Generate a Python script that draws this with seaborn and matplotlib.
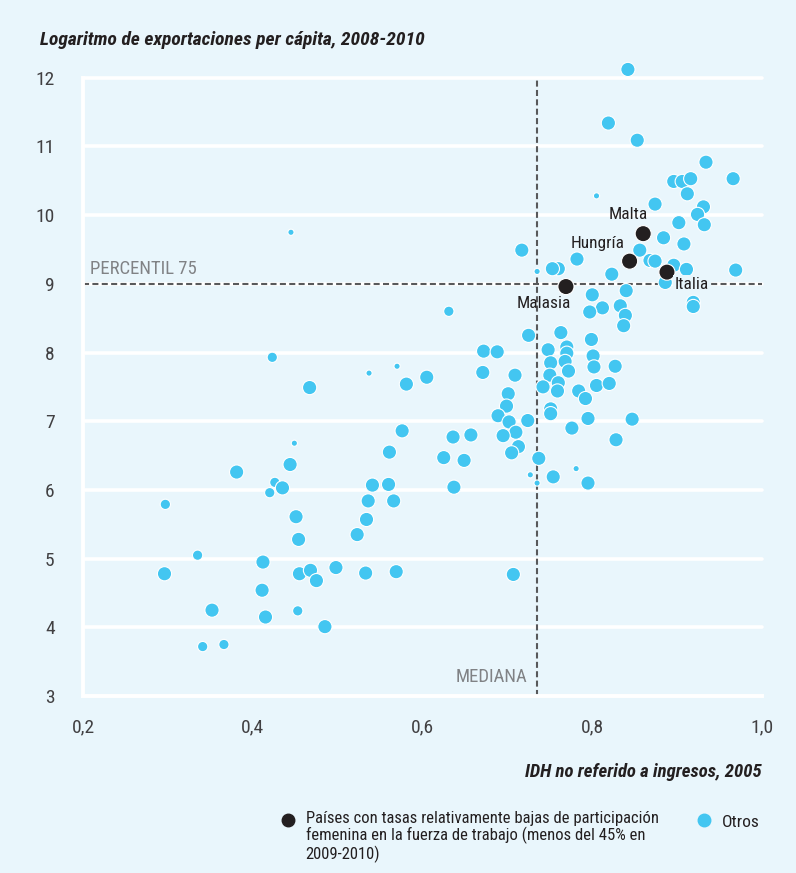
import matplotlib
matplotlib.use("Agg")
import matplotlib.pyplot as plt
from matplotlib import font_manager as fm
from matplotlib import transforms
import seaborn as sns
import pandas as pd
from matplotlib.lines import Line2D

# IDH no referido a ingresos (x), log exportaciones per capita (y), tamaño del punto
otros_x = [0.445, 0.423, 0.467, 0.449, 0.444, 0.381, 0.426, 0.435, 0.420, 0.297,
           0.541, 0.536, 0.534, 0.523, 0.451, 0.454, 0.412, 0.335, 0.296, 0.455,
           0.468, 0.475, 0.498, 0.533, 0.411, 0.352, 0.453, 0.415, 0.485, 0.341,
           0.366, 0.631, 0.725, 0.672, 0.688, 0.537, 0.570, 0.581, 0.605, 0.671,
           0.709, 0.701, 0.699, 0.689, 0.702, 0.724, 0.710, 0.695, 0.713, 0.705,
           0.737, 0.727, 0.735, 0.576, 0.636, 0.657, 0.561, 0.625, 0.649, 0.560,
           0.637, 0.566, 0.569, 0.707, 0.717, 0.735, 0.763, 0.748, 0.770, 0.770,
           0.768, 0.751, 0.772, 0.750, 0.760, 0.742, 0.759, 0.784, 0.792, 0.751,
           0.751, 0.776, 0.795, 0.847, 0.828, 0.799, 0.801, 0.802, 0.827, 0.805,
           0.820, 0.754, 0.781, 0.795, 0.800, 0.812, 0.797, 0.833, 0.839, 0.837,
           0.840, 0.842, 0.819, 0.853, 0.934, 0.966, 0.896, 0.906, 0.916, 0.912,
           0.805, 0.874, 0.931, 0.924, 0.932, 0.902, 0.884, 0.908, 0.856, 0.868,
           0.874, 0.896, 0.886, 0.911, 0.969, 0.782, 0.760, 0.753, 0.823, 0.919,
           0.919]
otros_y = [9.75, 7.93, 7.49, 6.68, 6.37, 6.26, 6.11, 6.03, 5.96, 5.79,
           6.07, 5.84, 5.57, 5.35, 5.61, 5.28, 4.95, 5.05, 4.78, 4.78,
           4.83, 4.68, 4.87, 4.79, 4.54, 4.25, 4.24, 4.15, 4.01, 3.72,
           3.75, 8.60, 8.25, 8.02, 8.01, 7.70, 7.80, 7.54, 7.64, 7.71,
           7.67, 7.40, 7.22, 7.08, 6.99, 7.01, 6.84, 6.79, 6.63, 6.54,
           6.46, 6.22, 6.10, 6.86, 6.77, 6.80, 6.55, 6.47, 6.43, 6.08,
           6.04, 5.84, 4.81, 4.77, 9.49, 9.18, 8.29, 8.04, 8.08, 7.99,
           7.87, 7.85, 7.73, 7.67, 7.56, 7.50, 7.44, 7.44, 7.33, 7.18,
           7.11, 6.90, 7.04, 7.03, 6.73, 8.19, 7.95, 7.79, 7.80, 7.52,
           7.55, 6.19, 6.31, 6.10, 8.84, 8.65, 8.59, 8.68, 8.54, 8.39,
           8.90, 12.12, 11.34, 11.09, 10.77, 10.53, 10.49, 10.49, 10.53, 10.31,
           10.28, 10.16, 10.12, 10.01, 9.86, 9.89, 9.67, 9.58, 9.49, 9.34,
           9.33, 9.27, 9.02, 9.21, 9.20, 9.36, 9.22, 9.22, 9.14, 8.73,
           8.67]
otros_tam = ["S", "M", "L", "S", "L", "L", "M", "L", "M", "M",
             "L", "L", "L", "L", "L", "L", "L", "M", "L", "L",
             "L", "L", "L", "L", "L", "L", "M", "L", "L", "M",
             "M", "M", "L", "L", "L", "S", "S", "L", "L", "L",
             "L", "L", "L", "L", "L", "L", "L", "L", "L", "L",
             "L", "S", "S", "L", "L", "L", "L", "L", "L", "L",
             "L", "L", "L", "L", "L", "S", "L", "L", "L", "L",
             "L", "L", "L", "L", "L", "L", "L", "L", "L", "L",
             "L", "L", "L", "L", "L", "L", "L", "L", "L", "L",
             "L", "L", "S", "L", "L", "L", "L", "L", "L", "L",
             "L", "L", "L", "L", "L", "L", "L", "L", "L", "L",
             "S", "L", "L", "L", "L", "L", "L", "L", "L", "L",
             "L", "L", "L", "L", "L", "L", "L", "L", "L", "L",
             "L"]

# paises con baja participacion femenina
bajos_nombre = ["Malta", "Hungría", "Italia", "Malasia"]
bajos_x = [0.860, 0.844, 0.888, 0.769]
bajos_y = [9.73, 9.33, 9.17, 8.96]

mediana_idh = 0.735
percentil_75 = 9

bg = "#E9F6FC"
cyan = "#43C6F1"
negro = "#231F20"
gris = "#808285"
tick_col = "#1AA7E0"

df = pd.DataFrame({
    "idh": otros_x + bajos_x,
    "exp": otros_y + bajos_y,
    "grupo": ["otros"] * len(otros_x) + ["bajos"] * len(bajos_x),
    "tam": otros_tam + ["XL"] * len(bajos_x),
})

sns.set_style("white")

# buscar una fuente estrecha parecida a la original
fuentes = fm.fontManager.ttflist
nombres = {f.name for f in fuentes}
familia = None
for cand in ["Roboto Condensed", "Liberation Sans Narrow", "Open Sans Condensed",
             "Noto Sans Condensed", "DejaVu Sans Condensed"]:
    if cand in nombres:
        familia = cand
        break
if familia is None:
    estrechas = [f.name for f in fuentes if f.stretch in ("condensed", "semi-condensed")]
    if estrechas:
        familia = estrechas[0]
        plt.rcParams["font.stretch"] = "condensed"
    else:
        familia = "DejaVu Sans"
plt.rcParams["font.family"] = [familia, "DejaVu Sans"]

fig = plt.figure(figsize=(7.96, 8.73), dpi=100, facecolor=bg)
ax = fig.add_axes([0.1043, 0.2027, 0.8530, 0.7083])
ax.set_facecolor(bg)

# lineas de referencia
dash = (0, (2.9, 1.6))
ax.axhline(percentil_75, color="#58595B", lw=1.5, ls=dash, zorder=1.5)
ax.axvline(mediana_idh, color="#58595B", lw=1.5, ls=dash, zorder=1.5)

sns.scatterplot(data=df, x="idh", y="exp", hue="grupo", size="tam",
                palette={"otros": cyan, "bajos": negro},
                sizes={"S": 20, "M": 55, "L": 105, "XL": 135},
                edgecolor="white", linewidth=0.8, legend=False,
                clip_on=False, zorder=3, ax=ax)

ax.set_xlim(0.2, 1.0)
ax.set_ylim(3, 12)
ax.set_xticks([0.2, 0.4, 0.6, 0.8, 1.0])
ax.set_xticklabels(["0,2", "0,4", "0,6", "0,8", "1,0"])
ax.set_yticks(range(3, 13))
ax.set_xlabel("")
ax.set_ylabel("")

ax.grid(axis="y", color="white", lw=2.6, zorder=0)
ax.grid(axis="x", visible=False)
for ln in ax.get_ygridlines():
    ln.set_clip_on(False)
for s in ["top", "right"]:
    ax.spines[s].set_visible(False)
for s in ["left", "bottom"]:
    ax.spines[s].set_color("white")
    ax.spines[s].set_linewidth(2.8)
    ax.spines[s].set_zorder(2.6)
ax.tick_params(axis="both", direction="out", width=1.5, color=tick_col,
               labelsize=14, labelcolor="#414042")
ax.tick_params(axis="y", length=11.5, pad=9)
ax.tick_params(axis="x", length=8, pad=8)

# textos de referencia
ax.text(0.208, percentil_75 + 0.14, "PERCENTIL 75", color=gris, fontsize=13.5,
        ha="left", va="baseline")
ax.text(mediana_idh - 0.011, 3.2, "MEDIANA", color=gris, fontsize=13.5,
        ha="right", va="baseline")

# etiquetas de paises
offsets = {"Malta": (-11, 14), "Hungría": (-23, 13), "Italia": (18, -9), "Malasia": (-16, -12)}
for nom, xv, yv in zip(bajos_nombre, bajos_x, bajos_y):
    ax.annotate(nom, (xv, yv), xytext=offsets[nom], textcoords="offset points",
                ha="center", va="center", fontsize=12.5, color=negro, zorder=4,
                bbox=dict(boxstyle="square,pad=0.1", fc=bg, ec="none") if nom == "Italia" else None)

fig.text(0.05, 0.954, "Logaritmo de exportaciones per cápita, 2008-2010",
         fontsize=14, fontweight="bold", fontstyle="italic", color=negro,
         ha="left", va="center")
fig.text(0.957, 0.116, "IDH no referido a ingresos, 2005",
         fontsize=13.5, fontweight="bold", fontstyle="italic", color=negro,
         ha="right", va="center")

# leyenda
fig.add_artist(Line2D([0.362], [0.0607], marker="o", ms=9, color=negro, ls="none",
                      transform=fig.transFigure))
fig.add_artist(Line2D([0.884], [0.0607], marker="o", ms=9, color=cyan, ls="none",
                      transform=fig.transFigure))
fig.text(0.384, 0.0527,
         "Países con tasas relativamente bajas de participación\n"
         "femenina en la fuerza de trabajo (menos del 45% en\n2009-2010)",
         fontsize=12, color=negro, ha="left", va="top", linespacing=1.1,
         transform=fig.transFigure + transforms.ScaledTranslation(0, 12 / 72 * 0.98, fig.dpi_scale_trans))
fig.text(0.907, 0.0527, "Otros", fontsize=12.5, color=negro, ha="left", va="baseline")

fig.savefig("out.png", dpi=100, facecolor=bg)
